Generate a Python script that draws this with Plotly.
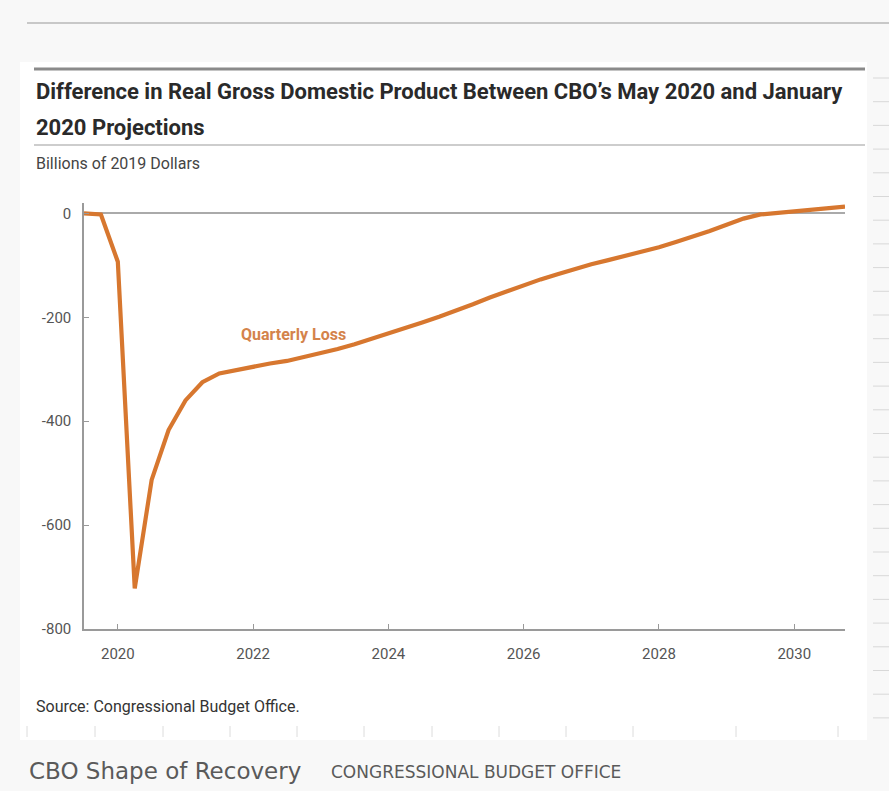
import plotly.graph_objects as go

# ---- data ----
quarters = ["2019Q3","2019Q4","2020Q1","2020Q2","2020Q3","2020Q4",
            "2021Q1","2021Q2","2021Q3","2021Q4","2022Q1","2022Q2","2022Q3","2022Q4",
            "2023Q1","2023Q2","2023Q3","2023Q4","2024Q1","2024Q2","2024Q3","2024Q4",
            "2025Q1","2025Q2","2025Q3","2025Q4","2026Q1","2026Q2","2026Q3","2026Q4",
            "2027Q1","2027Q2","2027Q3","2027Q4","2028Q1","2028Q2","2028Q3","2028Q4",
            "2029Q1","2029Q2","2029Q3","2029Q4","2030Q1","2030Q2","2030Q3","2030Q4"]
loss = [0, -2, -93, -722, -513, -417,
        -360, -325, -308, -301, -295, -289, -284, -277,
        -269, -261, -252, -242, -231, -221, -210, -199,
        -188, -175, -162, -150, -138, -127, -117, -107,
        -98, -90, -82, -74, -65, -55, -45, -34,
        -22, -10, -2, 1, 4, 7, 9, 13]
x_tickvals = [2020, 2022, 2024, 2026, 2028, 2030]
x_ticktext = ["2020", "2022", "2024", "2026", "2028", "2030"]
y_tickvals = [0, -200, -400, -600, -800]
y_ticktext = ["0", "-200", "-400", "-600", "-800"]

def qpos(q):
    y, n = q.split("Q")
    return int(y) + (int(n) - 1) * 0.25

xs = [qpos(q) for q in quarters]

W, H = 889, 791
ML, MR, MT, MB = 84, 44, 203, 162
PW, PH = W - ML - MR, H - MT - MB

def px(x):
    return (x - ML) / PW

def py(y):
    return (H - MB - y) / PH

CHART_FONT = "Roboto, Liberation Sans, sans-serif"
CAP_FONT = "DejaVu Sans, sans-serif"

fig = go.Figure()
fig.add_trace(go.Scatter(
    x=xs, y=loss, mode="lines",
    line=dict(color="#d7772f", width=4.2),
    hoverinfo="skip", showlegend=False,
))

shapes = []
shapes.append(dict(type="rect", xref="paper", yref="paper",
                   x0=px(20), x1=px(867), y0=py(740), y1=py(62),
                   fillcolor="white", line=dict(width=0), layer="below"))
shapes.append(dict(type="line", xref="paper", yref="paper",
                   x0=px(27), x1=px(889), y0=py(23), y1=py(23),
                   line=dict(color="#b8b8b8", width=1.5)))
shapes.append(dict(type="line", xref="paper", yref="paper",
                   x0=px(34), x1=px(865), y0=py(69), y1=py(69),
                   line=dict(color="#8a8a8a", width=3)))
shapes.append(dict(type="line", xref="paper", yref="paper",
                   x0=px(34), x1=px(865), y0=py(145), y1=py(145),
                   line=dict(color="#bdbdbd", width=1.5)))
yy = 78.0
while yy < 720:
    shapes.append(dict(type="line", xref="paper", yref="paper",
                       x0=px(873), x1=px(889), y0=py(yy), y1=py(yy),
                       line=dict(color="#d8d8d8", width=1)))
    yy += 23.7
for bx in [27, 95, 163, 230, 297, 364, 432, 499, 566, 633, 736, 838]:
    shapes.append(dict(type="line", xref="paper", yref="paper",
                       x0=px(bx), x1=px(bx), y0=py(726), y1=py(737),
                       line=dict(color="#dcdcdc", width=1)))

annotations = [
    dict(text="<b>Difference in Real Gross Domestic Product Between CBO’s May 2020 and January</b>",
         xref="paper", yref="paper", x=px(34), y=py(92), xanchor="left", yanchor="middle",
         showarrow=False, font=dict(family=CHART_FONT, size=22, color="#2a2a2a")),
    dict(text="<b>2020 Projections</b>",
         xref="paper", yref="paper", x=px(34), y=py(127), xanchor="left", yanchor="middle",
         showarrow=False, font=dict(family=CHART_FONT, size=22, color="#2a2a2a")),
    dict(text="Billions of 2019 Dollars",
         xref="paper", yref="paper", x=px(34), y=py(164), xanchor="left", yanchor="middle",
         showarrow=False, font=dict(family=CHART_FONT, size=16, color="#444444")),
    dict(text="Source: Congressional Budget Office.",
         xref="paper", yref="paper", x=px(34), y=py(706), xanchor="left", yanchor="middle",
         showarrow=False, font=dict(family=CHART_FONT, size=16, color="#333333")),
    dict(text="<b>Quarterly Loss</b>",
         xref="x", yref="y", x=2022.6, y=-234, xanchor="center", yanchor="middle",
         showarrow=False, font=dict(family=CHART_FONT, size=16, color="#d4834b")),
    dict(text="CBO Shape of Recovery",
         xref="paper", yref="paper", x=px(27), y=py(771), xanchor="left", yanchor="middle",
         showarrow=False, font=dict(family=CAP_FONT, size=23, color="#5a5a5a")),
    dict(text="CONGRESSIONAL BUDGET OFFICE",
         xref="paper", yref="paper", x=px(329), y=py(772), xanchor="left", yanchor="middle",
         showarrow=False, font=dict(family=CAP_FONT, size=17, color="#5a5a5a")),
]

fig.update_layout(
    width=W, height=H,
    margin=dict(l=ML, r=MR, t=MT, b=MB, pad=0),
    paper_bgcolor="#f8f8f8", plot_bgcolor="white",
    shapes=shapes, annotations=annotations,
    xaxis=dict(range=[2019.5, 2030.75], tickvals=x_tickvals, ticktext=x_ticktext,
               ticks="inside", ticklen=5, tickcolor="#999999", tickwidth=1,
               showline=True, linecolor="#9a9a9a", linewidth=1.5,
               showgrid=False, zeroline=False, ticklabelstandoff=10,
               tickfont=dict(family=CHART_FONT, size=15, color="#555555")),
    yaxis=dict(range=[-800, 20], tickvals=y_tickvals, ticktext=y_ticktext,
               ticks="inside", ticklen=5, tickcolor="#999999", tickwidth=1,
               showline=True, linecolor="#9a9a9a", linewidth=1.5,
               showgrid=False, zeroline=True, zerolinecolor="#aaaaaa", zerolinewidth=1.5,
               ticklabelstandoff=8,
               tickfont=dict(family=CHART_FONT, size=15, color="#555555")),
)

fig.write_html("out.html")
